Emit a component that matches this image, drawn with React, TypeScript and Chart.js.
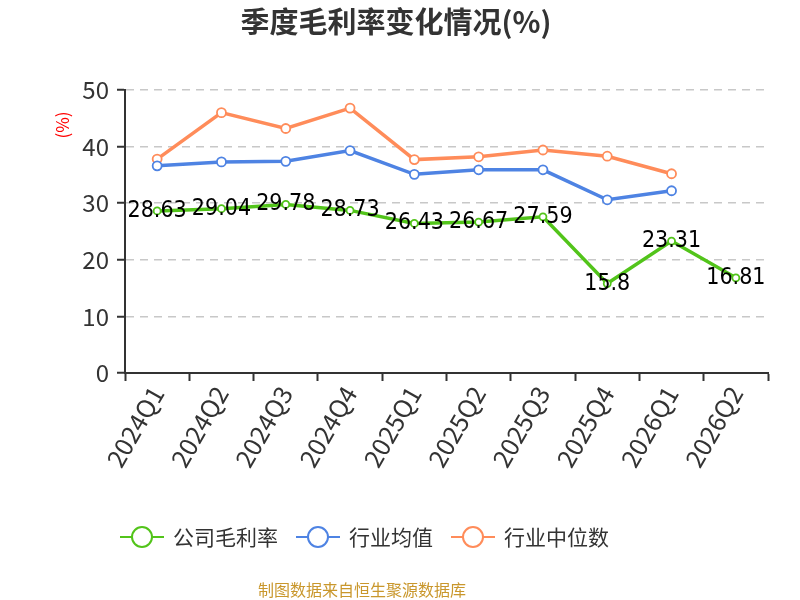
import { useEffect, useRef } from 'react';
import Chart from 'chart.js/auto';

const quarters = ['2024Q1', '2024Q2', '2024Q3', '2024Q4', '2025Q1', '2025Q2', '2025Q3', '2025Q4', '2026Q1', '2026Q2'];
const companyMargin = [28.63, 29.04, 29.78, 28.73, 26.43, 26.67, 27.59, 15.8, 23.31, 16.81];
const industryAvg = [36.6, 37.3, 37.4, 39.3, 35.1, 35.9, 35.9, 30.6, 32.2, null];
const industryMedian = [37.8, 46.0, 43.2, 46.8, 37.7, 38.2, 39.4, 38.3, 35.2, null];
const seriesNames = ['公司毛利率', '行业均值', '行业中位数'];
const seriesColors = ['#52c41a', '#4e83e3', '#ff8c5a'];

const CJK = '"Noto Sans CJK SC", "Noto Sans", sans-serif';
const NARROW = '"Liberation Sans Narrow", "DejaVu Sans Condensed", sans-serif';

// title, axis unit, data labels, legend and source line
const decorPlugin = {
  id: 'decor',
  afterDatasetsDraw(chart: any) {
    const ctx = chart.ctx;
    const meta = chart.getDatasetMeta(0);
    ctx.save();
    ctx.font = `23px ${NARROW}`;
    ctx.fillStyle = '#000';
    ctx.textAlign = 'center';
    ctx.textBaseline = 'middle';
    meta.data.forEach((pt: any, i: number) => {
      ctx.fillText(String(companyMargin[i]), pt.x, pt.y);
    });
    ctx.restore();
  },
  afterDraw(chart: any) {
    const ctx = chart.ctx;
    ctx.save();
    ctx.textBaseline = 'middle';

    ctx.font = `bold 29px ${CJK}`;
    ctx.fillStyle = '#333';
    ctx.textAlign = 'center';
    ctx.fillText('季度毛利率变化情况(%)', 396, 22);

    ctx.save();
    ctx.translate(63, 125);
    ctx.rotate(-Math.PI / 2);
    ctx.font = `17px ${CJK}`;
    ctx.fillStyle = '#ff0000';
    ctx.fillText('(%)', 0, 0);
    ctx.restore();

    // legend
    let x = 120;
    const y = 537;
    ctx.font = `21px ${CJK}`;
    ctx.textAlign = 'left';
    seriesNames.forEach((name, i) => {
      ctx.strokeStyle = seriesColors[i];
      ctx.lineWidth = 2;
      ctx.beginPath();
      ctx.moveTo(x, y);
      ctx.lineTo(x + 44, y);
      ctx.stroke();
      ctx.beginPath();
      ctx.arc(x + 22, y, 10, 0, Math.PI * 2);
      ctx.fillStyle = '#fff';
      ctx.fill();
      ctx.stroke();
      ctx.fillStyle = '#333';
      ctx.fillText(name, x + 53, y);
      x += 53 + ctx.measureText(name).width + 18;
    });

    ctx.font = `16px ${CJK}`;
    ctx.fillStyle = '#c9972c';
    ctx.textAlign = 'center';
    ctx.fillText('制图数据来自恒生聚源数据库', 362, 590);
    ctx.restore();
  },
};

const App = () => {
  const canvasRef = useRef<HTMLCanvasElement | null>(null);
  const chartRef = useRef<Chart | null>(null);

  useEffect(() => {
    document.body.style.margin = '0';
    if (!canvasRef.current) return;
    const ctx = canvasRef.current.getContext('2d');
    if (!ctx) return;
    if (chartRef.current) chartRef.current.destroy();

    const lineSet = (i: number, data: (number | null)[], radius: number) => ({
      label: seriesNames[i],
      data,
      borderColor: seriesColors[i],
      backgroundColor: '#fff',
      borderWidth: 3.5,
      pointRadius: radius,
      pointBorderWidth: 1.8,
      pointBackgroundColor: '#fff',
      pointBorderColor: seriesColors[i],
      tension: 0,
    });

    chartRef.current = new Chart(ctx, {
      type: 'line',
      data: {
        labels: quarters,
        datasets: [
          lineSet(0, companyMargin, 3.5),
          lineSet(1, industryAvg, 4.5),
          lineSet(2, industryMedian, 4.5),
        ],
      },
      options: {
        responsive: true,
        maintainAspectRatio: false,
        animation: false,
        layout: { padding: { top: 90, right: 32, bottom: 87, left: 0 } },
        plugins: {
          legend: { display: false },
          title: { display: false },
          tooltip: { enabled: false },
        },
        scales: {
          x: {
            offset: true,
            afterFit: (scale: any) => { scale.height = 140; },
            grid: {
              offset: true,
              drawOnChartArea: false,
              tickLength: 8,
              tickColor: '#333',
              tickWidth: 2,
            },
            border: { color: '#333', width: 2 },
            ticks: {
              color: '#333',
              font: { size: 25, family: CJK },
              maxRotation: 60,
              minRotation: 60,
              padding: 0,
              autoSkip: false,
            },
          },
          y: {
            min: 0,
            max: 50,
            afterFit: (scale: any) => { scale.width = 125; },
            grid: {
              color: '#c8c8c8',
              lineWidth: 1.5,
              tickLength: 8,
              tickColor: '#333',
              tickWidth: 2,
              tickBorderDash: [],
            },
            border: { color: '#333', width: 2, dash: [8, 6] },
            ticks: {
              stepSize: 10,
              color: '#333',
              font: { size: 24, family: CJK },
              padding: 8,
            },
          },
        },
      },
      plugins: [decorPlugin],
    });

    return () => {
      if (chartRef.current) {
        chartRef.current.destroy();
        chartRef.current = null;
      }
    };
  }, []);

  return (
    <div style={{ width: 800, height: 600, position: 'relative' }}>
      <canvas ref={canvasRef} />
    </div>
  );
};

export default App;
